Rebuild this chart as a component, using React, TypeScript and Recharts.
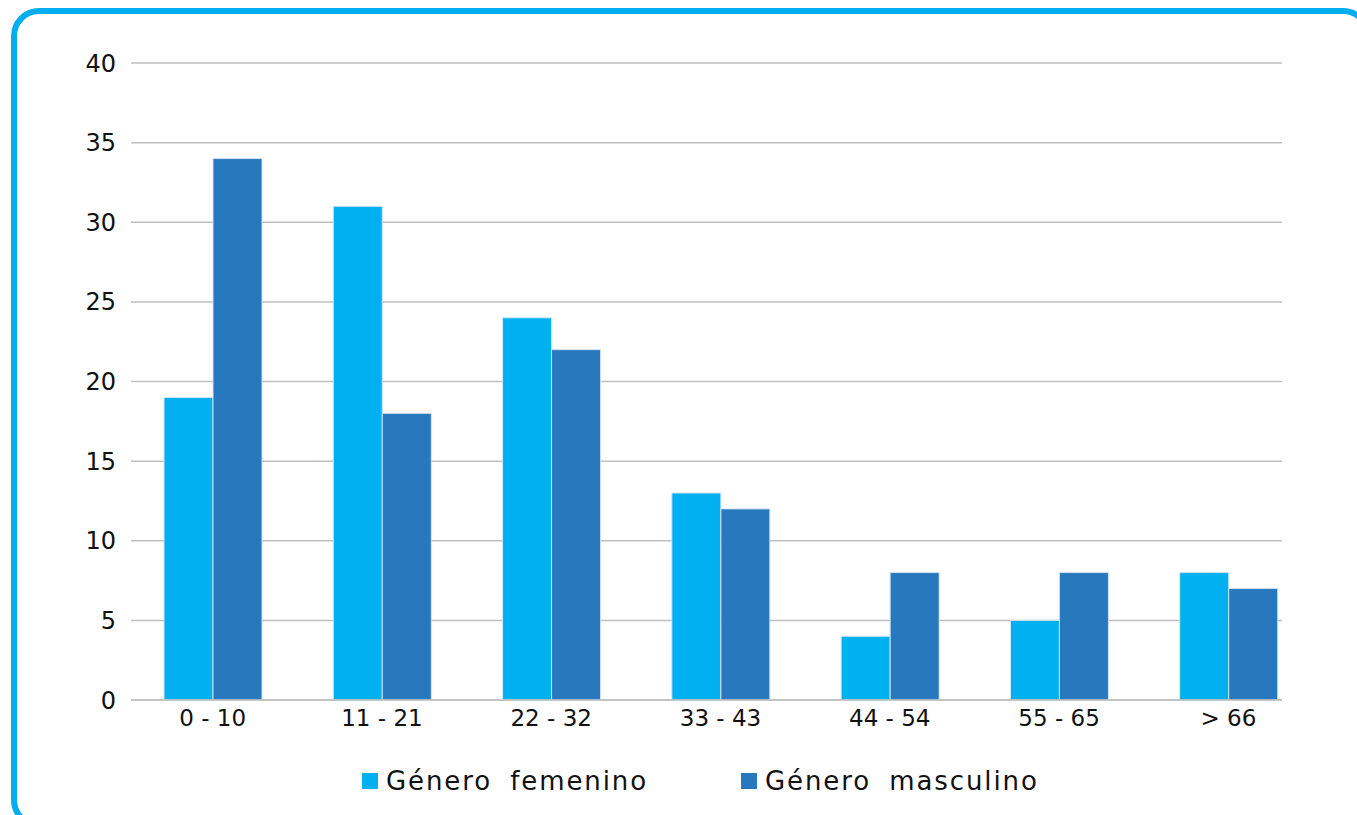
import React from 'react';
import { BarChart, Bar, XAxis, YAxis, CartesianGrid, Legend } from 'recharts';

const categories = ['0 - 10', '11 - 21', '22 - 32', '33 - 43', '44 - 54', '55 - 65', '> 66'];
const femenino = [19, 31, 24, 13, 4, 5, 8];
const masculino = [34, 18, 22, 12, 8, 8, 7];
const yTicks = [0, 5, 10, 15, 20, 25, 30, 35, 40];

const seriesNames = ['Género femenino', 'Género masculino'];
const colors = ['#00B0F0', '#2878BD'];

const data = categories.map((c, i) => ({ cat: c, fem: femenino[i], masc: masculino[i] }));

const FONT = '"DejaVu Sans", sans-serif';

const LegendContent = () => (
  <div style={{ position: 'relative', height: 40, width: 1357, fontFamily: FONT }}>
    {seriesNames.map((n, i) => (
      <div
        key={n}
        style={{ position: 'absolute', left: i === 0 ? 362 : 741, top: 0, height: 40, display: 'flex', alignItems: 'center' }}
      >
        <div style={{ width: 16, height: 16, background: colors[i], marginRight: i === 0 ? 8 : 8 }} />
        <span style={{ fontSize: 26, letterSpacing: 1.9, wordSpacing: 8, color: '#111', whiteSpace: 'nowrap' }}>{n}</span>
      </div>
    ))}
  </div>
);

export default function App() {
  return (
    <div style={{ position: 'absolute', left: 0, top: 0, width: 1357, height: 815, overflow: 'hidden', background: '#fff' }}>
      <div
        style={{
          position: 'absolute',
          left: 11,
          top: 8,
          width: 1360,
          height: 820,
          border: '6px solid #00AEEF',
          borderRadius: 28,
          boxSizing: 'border-box',
        }}
      />
      <BarChart
        width={1357}
        height={815}
        data={data}
        margin={{ top: 63, right: 75, left: 0, bottom: 35 }}
        barCategoryGap={36}
        barGap={0}
        style={{ position: 'absolute', left: 0, top: 0 }}
      >
        <CartesianGrid vertical={false} stroke="#BFBFBF" strokeWidth={1.5} />
        <XAxis
          dataKey="cat"
          height={40}
          padding={{ left: -3, right: -31 }}
          tickLine={false}
          tickMargin={4}
          axisLine={{ stroke: '#BFBFBF', strokeWidth: 1.5 }}
          tick={{ fill: '#111', fontSize: 23, fontFamily: FONT }}
          interval={0}
        />
        <YAxis
          width={131}
          domain={[0, 40]}
          ticks={yTicks}
          interval={0}
          axisLine={false}
          tickLine={false}
          tickMargin={9}
          tick={{ fill: '#111', fontSize: 24, fontFamily: FONT }}
        />
        <Legend
          verticalAlign="bottom"
          content={<LegendContent />}
          wrapperStyle={{ left: 0, top: 761, width: 1357, height: 40 }}
        />
        <Bar dataKey="fem" name={seriesNames[0]} fill={colors[0]} stroke="#cfe6f7" strokeWidth={1} isAnimationActive={false} />
        <Bar dataKey="masc" name={seriesNames[1]} fill={colors[1]} stroke="#cfe0f0" strokeWidth={1} isAnimationActive={false} />
      </BarChart>
    </div>
  );
}
